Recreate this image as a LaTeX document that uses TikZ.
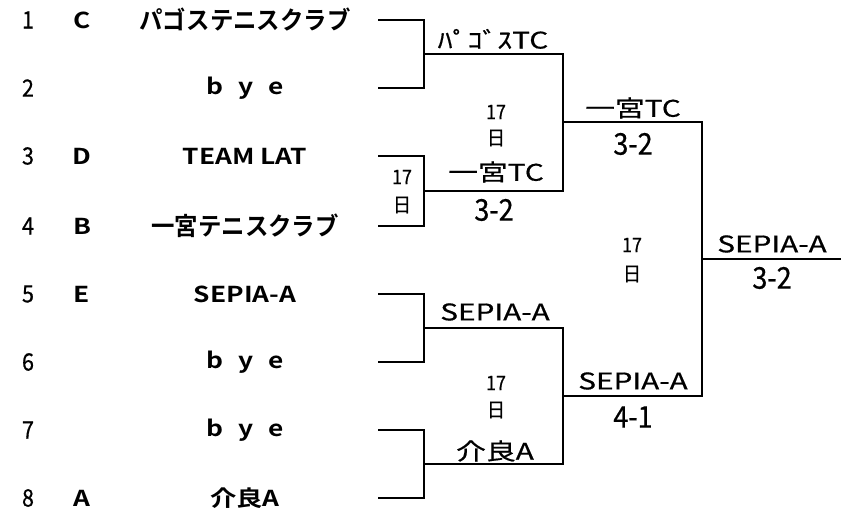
\documentclass[tikz,border=0pt]{standalone}
\usepackage{fontspec}
\setmainfont{Noto Sans CJK JP}[BoldFont={Noto Sans CJK JP Bold}]
\newfontfamily\regfont{Noto Sans CJK JP}[FakeBold=0.6]
\newfontfamily\narrowregfont{Noto Sans CJK JP}[FakeBold=0.6, FakeStretch=0.9]
\newfontfamily\widefont{Noto Sans CJK JP}[FakeStretch=1.3, FakeBold=0.6]
\newfontfamily\wideboldfont{Noto Sans CJK JP Bold}[FakeStretch=1.2]
\newfontfamily\jpboldfont{Noto Sans CJK JP Bold}[FakeStretch=0.94]
\newcommand\byespacing{\spaceskip=15bp\relax}
\begin{document}
\begin{tikzpicture}[x=1bp,y=-1bp,
  br/.style={line width=2.4bp, line cap=rect},
  num/.style={font=\narrowregfont\fontsize{24}{26}\selectfont, inner sep=0pt},
  seed/.style={font=\wideboldfont\fontsize{22}{24}\selectfont, inner sep=0pt},
  teamj/.style={font=\jpboldfont\fontsize{25}{27}\selectfont, inner sep=0pt},
  teaml/.style={font=\wideboldfont\fontsize{22}{24}\selectfont, inner sep=0pt},
  teamb/.style={font=\wideboldfont\fontsize{22}{24}\selectfont, execute at begin node=\byespacing, inner sep=0pt},
  res/.style={font=\widefont\fontsize{23}{25}\selectfont, inner sep=0pt},
  score/.style={font=\narrowregfont\fontsize{30}{32}\selectfont, inner sep=0pt},
  day/.style={font=\narrowregfont\fontsize{20}{22}\selectfont, inner sep=0pt}]
\useasboundingbox (0,0) rectangle (852,514);
% left column
\foreach \i/\y/\s/\t/\st in {1/20/C/パゴステニスクラブ/teamj, 2/88//b y e/teamb, 3/156/D/TEAM LAT/teaml, 4/226/B/一宮テニスクラブ/teamj, 5/294/E/SEPIA-A/teaml, 6/362//b y e/teamb, 7/430//b y e/teamb, 8/498/A/介良A/teaml}{
  \node[num] (n\i) at (28,\y) {\i};
  \node[seed] (s\i) at (82,\y) {\s};
  \node[\st] (t\i) at (245,\y) {\t};
  \coordinate (e\i) at (379,\y);
}
% bracket joints
\coordinate (j12) at (424,54);
\coordinate (j34) at (424,191);
\coordinate (j56) at (424,328);
\coordinate (j78) at (424,464);
\coordinate (k12) at (563,54);
\coordinate (k34) at (563,191);
\coordinate (k56) at (563,328);
\coordinate (k78) at (563,464);
\coordinate (j14) at (563,122);
\coordinate (j58) at (563,396);
\coordinate (k14) at (702,122);
\coordinate (k58) at (702,396);
\coordinate (jf) at (702,259);
\coordinate (champ) at (840,259);
% round 1
\draw[br] (e1) -| (j12) |- (e2);
\draw[br] (j12) -- (k12);
\draw[br] (e3) -| (j34) |- (e4);
\draw[br] (j34) -- (k34);
\draw[br] (e5) -| (j56) |- (e6);
\draw[br] (j56) -- (k56);
\draw[br] (e7) -| (j78) |- (e8);
\draw[br] (j78) -- (k78);
% round 2
\draw[br] (k12) -| (j14) |- (k34);
\draw[br] (j14) -- (k14);
\draw[br] (k56) -| (j58) |- (k78);
\draw[br] (j58) -- (k58);
% final
\draw[br] (k14) -| (jf) |- (k58);
\draw[br] (jf) -- (champ);
% labels
\node[res] (w12) at (493,39) {ﾊﾟｺﾞｽTC};
\node[day] (d34a) at (402,177) {17};
\node[day] (d34b) at (402,205) {日};
\node[res] (w34) at (496,172) {一宮TC};
\node[score] (r34) at (494,210) {3-2};
\node[day] (d14a) at (496,112) {17};
\node[day] (d14b) at (496,138) {日};
\node[res] (w14) at (633,108) {一宮TC};
\node[score] (r14) at (633,144) {3-2};
\node[day] (dfa) at (632,245) {17};
\node[day] (dfb) at (632,274) {日};
\node[res] (wf) at (772,244) {SEPIA-A};
\node[score] (rf) at (772,278) {3-2};
\node[res] (w56) at (495,312) {SEPIA-A};
\node[day] (d58a) at (496,383) {17};
\node[day] (d58b) at (496,410) {日};
\node[res] (w78) at (495,451) {介良A};
\node[res] (w58) at (633,381) {SEPIA-A};
\node[score] (r58) at (633,417) {4-1};
\end{tikzpicture}
\end{document}
